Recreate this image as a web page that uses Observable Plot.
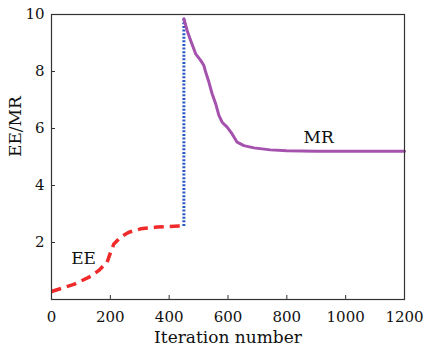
<!DOCTYPE html>
<html><head><meta charset="utf-8">
<script src="https://cdn.jsdelivr.net/npm/d3@7"></script>
<script src="https://cdn.jsdelivr.net/npm/@observablehq/plot@0.6"></script>
<style>body{margin:0;background:#fff}</style>
</head><body><div id="chart"></div>
<script>
const eeX = [0, 76, 133, 161, 189, 201, 212, 235, 263, 303, 359, 433, 450];
const eeY = [0.28, 0.53, 0.81, 1.02, 1.31, 1.66, 1.95, 2.19, 2.36, 2.48, 2.54, 2.58, 2.58];
const mrX = [450, 461, 473, 490, 507, 518, 524, 535, 546, 558, 569, 580, 597, 614, 631, 654, 688, 744, 800, 900, 1000, 1100, 1200];
const mrY = [9.85, 9.44, 9.09, 8.62, 8.39, 8.21, 7.98, 7.63, 7.22, 6.87, 6.46, 6.22, 6.05, 5.81, 5.52, 5.40, 5.32, 5.25, 5.22, 5.2, 5.2, 5.2, 5.2];
const jumpX = [450, 450];
const jumpY = [2.58, 9.9];
const xTicks = [0, 200, 400, 600, 800, 1000, 1200];
const yTicks = [2, 4, 6, 8, 10];
const xTitle = "Iteration number";
const yTitle = "EE/MR";
const labels = [{x: 109, y: 1.44, t: "EE"}, {x: 908, y: 5.68, t: "MR"}];

const ee = eeX.map((x, i) => ({x, y: eeY[i]}));
const mr = mrX.map((x, i) => ({x, y: mrY[i]}));
const jump = jumpX.map((x, i) => ({x, y: jumpY[i]}));

const chart = Plot.plot({
  width: 425, height: 354,
  marginLeft: 51, marginTop: 14, marginRight: 21, marginBottom: 55,
  style: {fontFamily: "DejaVu Serif", fontSize: "15px", color: "#111", background: "#fff"},
  x: {domain: [0, 1200], ticks: xTicks, tickSize: 0, tickPadding: 12, tickFormat: d => String(d), label: null},
  y: {domain: [0, 10], ticks: yTicks, tickSize: 0, tickPadding: 7, tickFormat: d => String(d), label: null},
  marks: [
    Plot.ruleX(xTicks.slice(1, -1), {x: d => d, insetTop: 281, stroke: "#333", strokeWidth: 1}),
    Plot.ruleY(yTicks.slice(0, -1), {y: d => d, insetRight: 349, stroke: "#333", strokeWidth: 1}),
    Plot.line(ee, {x: "x", y: "y", stroke: "#f02a2a", strokeWidth: 3.5, strokeDasharray: "10,6", strokeLinecap: "butt"}),
    Plot.line(jump, {x: "x", y: "y", stroke: "#2b5ac4", strokeWidth: 3, strokeDasharray: "2,1.6", strokeLinecap: "butt"}),
    Plot.line(mr, {x: "x", y: "y", stroke: "#a452ae", strokeWidth: 3}),
    Plot.text(labels, {x: "x", y: "y", text: "t", fontSize: 17, fill: "#111"}),
    Plot.text([xTitle], {frameAnchor: "bottom", dy: 43, fontSize: 17, fill: "#111"}),
    Plot.text([yTitle], {frameAnchor: "left", dx: -36, rotate: -90, fontSize: 17, fill: "#111"}),
    Plot.frame({stroke: "#333", strokeWidth: 1.2})
  ]
});
document.getElementById("chart").appendChild(chart);
</script></body></html>
